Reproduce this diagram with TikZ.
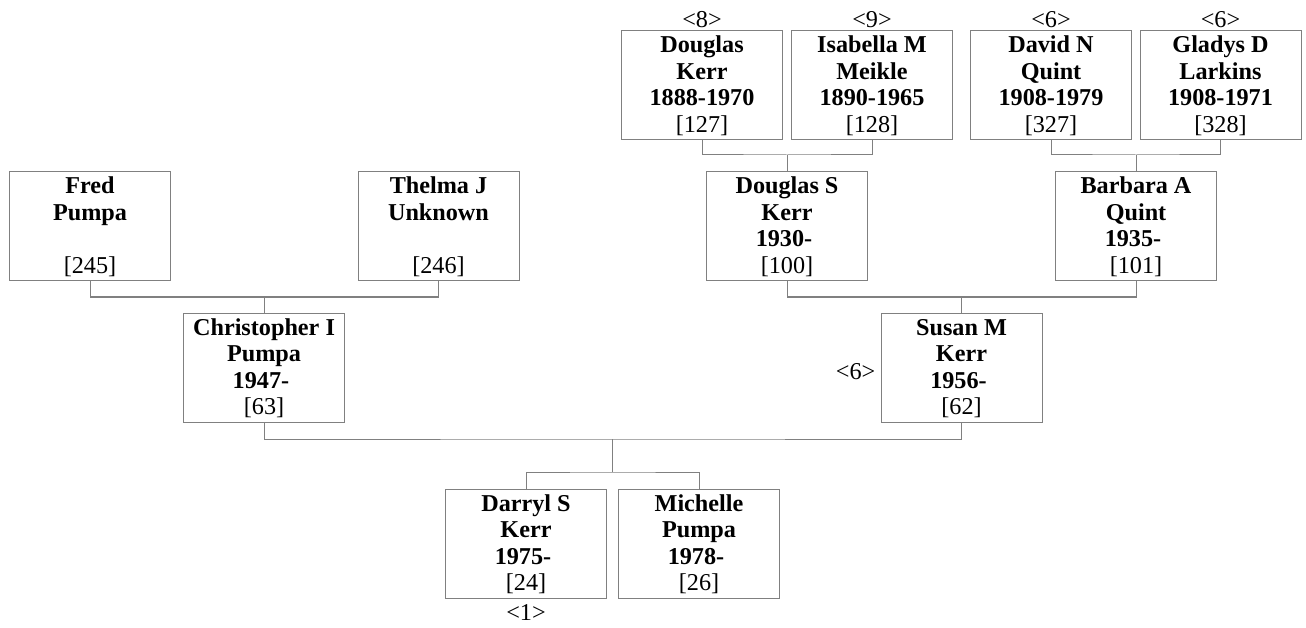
\documentclass[tikz,border=0pt]{standalone}
\usepackage{fontspec}
\setmainfont{Liberation Serif}
\usetikzlibrary{calc}
\definecolor{ln}{RGB}{128,128,128}
\newcommand{\pers}[4]{\parbox[t]{161pt}{\centering\fontsize{24.2}{26.5}\selectfont\bfseries #1\\#2\\#3\\\mdseries #4}}
\newcommand{\opn}{\hphantom{\ }}
\begin{document}
\begin{tikzpicture}[x=1pt,y=-1pt,
  person/.style={draw=ln, line width=1pt, rectangle, minimum width=161pt, minimum height=109pt,
    inner xsep=0pt, inner ysep=4pt, text height=18pt, text depth=83pt},
  conn/.style={draw=ln, line width=1pt},
  lbl/.style={font=\fontsize{24.2}{26.5}\selectfont, inner sep=0pt}]
\useasboundingbox (0,0) rectangle (1306,628);
% row 1
\node[person] (dk) at (702,85.5) {\pers{Douglas}{Kerr}{1888-1970}{[127]}};
\node[person] (im) at (872,85.5) {\pers{Isabella M}{Meikle}{1890-1965}{[128]}};
\node[person] (dq) at (1051,85.5) {\pers{David N}{Quint}{1908-1979}{[327]}};
\node[person] (gl) at (1220.5,85.5) {\pers{Gladys D}{Larkins}{1908-1971}{[328]}};
% row 2
\node[person] (fp) at (90,226.5) {\pers{Fred}{Pumpa}{\mbox{}}{[245]}};
\node[person] (tu) at (438.5,226.5) {\pers{Thelma J}{Unknown}{\mbox{}}{[246]}};
\node[person] (ds) at (787,226.5) {\pers{Douglas S}{Kerr}{1930-\opn}{[100]}};
\node[person] (bq) at (1136,226.5) {\pers{Barbara A}{Quint}{1935-\opn}{[101]}};
% row 3
\node[person] (cp) at (264,367.5) {\pers{Christopher I}{Pumpa}{1947-\opn}{[63]}};
\node[person] (su) at (961.5,367.5) {\pers{Susan M}{Kerr}{1956-\opn}{[62]}};
% row 4
\node[person] (da) at (526,543.5) {\pers{Darryl S}{Kerr}{1975-\opn}{[24]}};
\node[person] (mp) at (699,543.5) {\pers{Michelle}{Pumpa}{1978-\opn}{[26]}};
% labels
\node[lbl, anchor=base] (l8) at ($(dk.north)+(0,-3)$) {<8>};
\node[lbl, anchor=base] (l9) at ($(im.north)+(0,-3)$) {<9>};
\node[lbl, anchor=base] (l6a) at ($(dq.north)+(0,-3)$) {<6>};
\node[lbl, anchor=base] (l6b) at ($(gl.north)+(0,-3)$) {<6>};
\node[lbl, anchor=base east] (l6c) at ($(su.west)+(-5,12)$) {<6>};
\node[lbl, anchor=base] (l1) at ($(da.south)+(0,22)$) {<1>};
% connectors
\coordinate (j1) at (787,155);
\draw[conn] (dk.south) |- (j1) -| (im.south);
\draw[conn] (j1) -- (ds.north);
\coordinate (j2) at (1136,155);
\draw[conn] (dq.south) |- (j2) -| (gl.south);
\draw[conn] (j2) -- (bq.north);
\coordinate (j3) at (264,297);
\draw[conn] (fp.south) |- (j3) -| (tu.south);
\draw[conn] (j3) -- (cp.north);
\coordinate (j4) at (961.5,297);
\draw[conn] (ds.south) |- (j4) -| (bq.south);
\draw[conn] (j4) -- (su.north);
\coordinate (j5) at (612.5,439);
\draw[conn] (cp.south) |- (j5) -| (su.south);
\coordinate (j6) at (612.5,472);
\draw[conn] (j5) -- (j6);
\draw[conn] (da.north) |- (j6) -| (mp.north);
\end{tikzpicture}
\end{document}
